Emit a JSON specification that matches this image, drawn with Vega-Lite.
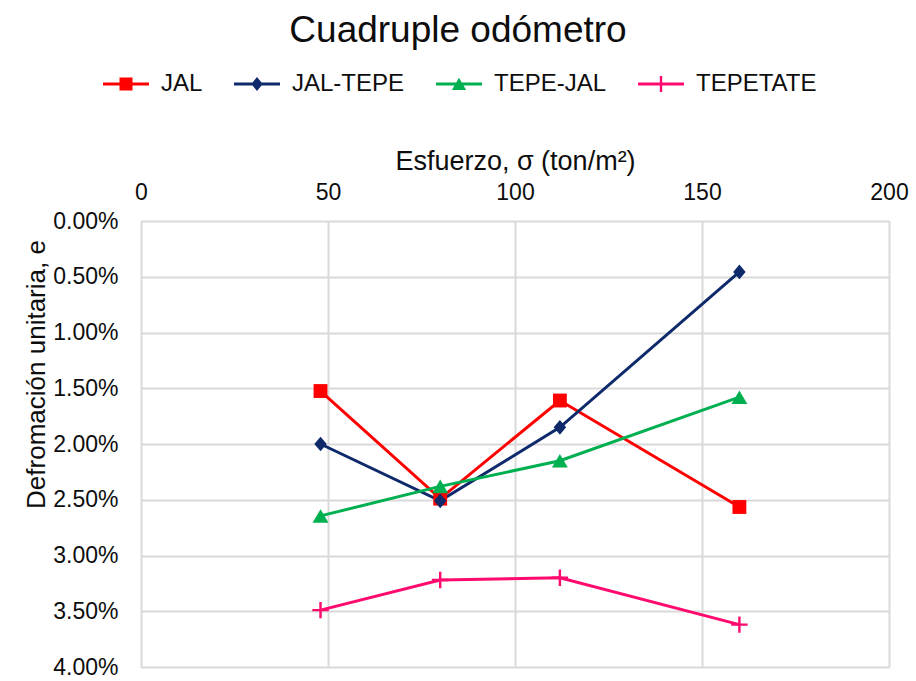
{
  "$schema": "https://vega.github.io/schema/vega-lite/v6.json",
  "width": 748,
  "height": 446,
  "autosize": "none",
  "padding": {"left": 141, "top": 221, "right": 27, "bottom": 14},
  "background": "white",
  "config": {
    "font": "Liberation Sans",
    "view": {"stroke": null}
  },
  "title": {
    "text": "Cuadruple odómetro",
    "fontSize": 37,
    "fontWeight": "normal",
    "color": "#0d0d0d",
    "anchor": "middle",
    "frame": "group",
    "dx": -57,
    "offset": 11
  },
  "data": {
    "values": [
      {"serie": "JAL", "esfuerzo": 48, "deformacion": 0.01525},
      {"serie": "JAL", "esfuerzo": 80, "deformacion": 0.0249},
      {"serie": "JAL", "esfuerzo": 112, "deformacion": 0.0161},
      {"serie": "JAL", "esfuerzo": 160, "deformacion": 0.02565},
      {"serie": "JAL-TEPE", "esfuerzo": 48, "deformacion": 0.0200},
      {"serie": "JAL-TEPE", "esfuerzo": 80, "deformacion": 0.0251},
      {"serie": "JAL-TEPE", "esfuerzo": 112, "deformacion": 0.0185},
      {"serie": "JAL-TEPE", "esfuerzo": 160, "deformacion": 0.00457},
      {"serie": "TEPE-JAL", "esfuerzo": 48, "deformacion": 0.02645},
      {"serie": "TEPE-JAL", "esfuerzo": 80, "deformacion": 0.0238},
      {"serie": "TEPE-JAL", "esfuerzo": 112, "deformacion": 0.0215},
      {"serie": "TEPE-JAL", "esfuerzo": 160, "deformacion": 0.0158},
      {"serie": "TEPETATE", "esfuerzo": 48, "deformacion": 0.0349},
      {"serie": "TEPETATE", "esfuerzo": 80, "deformacion": 0.0322},
      {"serie": "TEPETATE", "esfuerzo": 112, "deformacion": 0.0320},
      {"serie": "TEPETATE", "esfuerzo": 160, "deformacion": 0.0362}
    ]
  },
  "encoding": {
    "x": {
      "field": "esfuerzo",
      "type": "quantitative",
      "scale": {"domain": [0, 200], "nice": false, "zero": true},
      "axis": {
        "orient": "top",
        "title": "Esfuerzo, σ (ton/m²)",
        "values": [0, 50, 100, 150, 200],
        "domain": false,
        "ticks": false,
        "tickSize": 0,
        "labelFontSize": 23,
        "labelColor": "#0d0d0d",
        "labelPadding": 17,
        "labelFlush": false,
        "titleFontSize": 27,
        "titleFontWeight": "normal",
        "titleColor": "#0d0d0d",
        "titlePadding": 6,
        "grid": true,
        "gridColor": "#d9d9d9",
        "gridWidth": 2
      }
    },
    "y": {
      "field": "deformacion",
      "type": "quantitative",
      "scale": {"domain": [0, 0.04], "reverse": true, "nice": false},
      "axis": {
        "title": "Defromación unitaria, e",
        "format": ".2%",
        "values": [0, 0.005, 0.01, 0.015, 0.02, 0.025, 0.03, 0.035, 0.04],
        "domain": false,
        "ticks": false,
        "tickSize": 0,
        "labelFontSize": 23,
        "labelColor": "#0d0d0d",
        "labelPadding": 23,
        "labelFlush": false,
        "titleFontSize": 26,
        "titleFontWeight": "normal",
        "titleColor": "#0d0d0d",
        "titleAngle": -90,
        "titleAlign": "center",
        "titleBaseline": "alphabetic",
        "titleX": -97,
        "titleY": 153,
        "grid": true,
        "gridColor": "#d9d9d9",
        "gridWidth": 2
      }
    },
    "color": {
      "field": "serie",
      "type": "nominal",
      "scale": {
        "domain": ["JAL", "JAL-TEPE", "TEPE-JAL", "TEPETATE"],
        "range": ["#ff0000", "#0e2a6b", "#00b050", "#ff0a6e"]
      },
      "legend": null
    }
  },
  "layer": [
    {
      "mark": {"type": "line", "strokeWidth": 3},
      "encoding": {}
    },
    {
      "mark": {"type": "point", "filled": true, "opacity": 1, "size": 300},
      "encoding": {
        "shape": {
          "field": "serie",
          "type": "nominal",
          "scale": {
            "domain": ["JAL", "JAL-TEPE", "TEPE-JAL", "TEPETATE"],
            "range": [
              "M-0.8,-0.8H0.8V0.8H-0.8Z",
              "M0,-0.85L0.72,0L0,0.85L-0.72,0Z",
              "M0,-0.78L0.92,0.78L-0.92,0.78Z",
              "M-0.95,-0.14H0.95V0.14H-0.95Z M-0.14,-0.95H0.14V0.95H-0.14Z"
            ]
          },
          "legend": null
        }
      }
    },
    {
      "mark": {"type": "point", "filled": true, "opacity": 0, "size": 2116},
      "encoding": {
        "shape": {
          "field": "serie",
          "type": "nominal",
          "scale": {
            "domain": ["JAL", "JAL-TEPE", "TEPE-JAL", "TEPETATE"],
            "range": [
              "M-1,-0.065H1V0.065H-1Z M-0.283,-0.283H0.283V0.283H-0.283Z",
              "M-1,-0.065H1V0.065H-1Z M0,-0.3L0.25,0L0,0.3L-0.25,0Z",
              "M-1,-0.065H1V0.065H-1Z M0,-0.27L0.31,0.26L-0.31,0.26Z",
              "M-1,-0.065H1V0.065H-1Z M-0.052,-0.35H0.052V0.35H-0.052Z"
            ]
          },
          "legend": {
            "title": null,
            "orient": "none",
            "direction": "horizontal",
            "legendX": -38,
            "legendY": -160,
            "padding": 0,
            "symbolSize": 2116,
            "symbolOpacity": 1,
            "symbolStrokeWidth": 0,
            "labelFontSize": 24,
            "labelColor": "#0d0d0d",
            "labelOffset": 12,
            "columnPadding": 31,
            "labelLimit": 300,
            "encode": {"symbols": {"update": {"opacity": {"value": 1}}}}
          }
        },
        "color": {
          "field": "serie",
          "type": "nominal",
          "scale": {
            "domain": ["JAL", "JAL-TEPE", "TEPE-JAL", "TEPETATE"],
            "range": ["#ff0000", "#0e2a6b", "#00b050", "#ff0a6e"]
          },
          "legend": {
            "title": null,
            "orient": "none",
            "direction": "horizontal",
            "legendX": -38,
            "legendY": -160,
            "padding": 0,
            "symbolSize": 2116,
            "symbolOpacity": 1,
            "symbolStrokeWidth": 0,
            "labelFontSize": 24,
            "labelColor": "#0d0d0d",
            "labelOffset": 12,
            "columnPadding": 31,
            "labelLimit": 300,
            "encode": {"symbols": {"update": {"opacity": {"value": 1}}}}
          }
        }
      }
    }
  ],
  "resolve": {"scale": {"shape": "independent", "color": "independent"}}
}
